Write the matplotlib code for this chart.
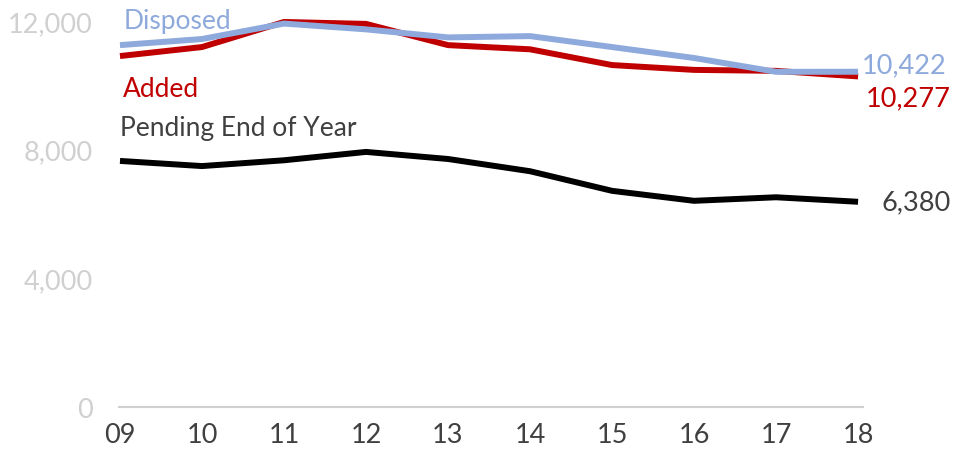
import numpy as np
import matplotlib
matplotlib.use("Agg")
import matplotlib.pyplot as plt

years = ["09", "10", "11", "12", "13", "14", "15", "16", "17", "18"]
disposed = [11250, 11440, 11920, 11740, 11490, 11530, 11190, 10850, 10420, 10422]
added = [10910, 11190, 11970, 11910, 11250, 11120, 10630, 10480, 10450, 10277]
pending = [7650, 7490, 7670, 7930, 7710, 7330, 6720, 6410, 6520, 6380]

c_disp = "#8EA9DB"
c_add = "#C00000"
c_pend = "#000000"
c_text = "#404040"

plt.rcParams['font.family'] = ['Lato', 'DejaVu Sans']

fig = plt.figure(figsize=(9.63, 4.56), dpi=100)
ax = fig.add_axes([119/963, 1 - 408/456, 744/963, 386/456])

x = np.arange(len(years))
ax.plot(x, pending, color=c_pend, lw=4.3, clip_on=False, solid_capstyle='butt')
ax.plot(x, added, color=c_add, lw=4.3, clip_on=False, solid_capstyle='butt')
ax.plot(x, disposed, color=c_disp, lw=4.3, clip_on=False, solid_capstyle='butt')

ax.set_xlim(-0.012, 9.06)
ax.set_ylim(0, 12000)
ax.set_xticks(x)
ax.set_xticklabels(years)
ax.set_yticks([0, 4000, 8000, 12000])
ax.set_yticklabels(["0", "4,000", "8,000", "12,000"])

for s in ["top", "right", "left"]:
    ax.spines[s].set_visible(False)
ax.spines["bottom"].set_color("#D0D0D0")
ax.spines["bottom"].set_linewidth(1.5)
ax.tick_params(axis="both", length=0)
ax.tick_params(axis="y", colors="#D0D0D0", labelsize=19.5, pad=19)
ax.tick_params(axis="x", colors=c_text, labelsize=19.5, pad=11)

# series labels
ax.text(0.04, 12000, "Disposed", color=c_disp, fontsize=19, va="center", ha="left")
ax.text(0.04, 9890, "Added", color=c_add, fontsize=19, va="center", ha="left")
ax.text(0.0, 8690, "Pending End of Year", color=c_text, fontsize=19, va="center", ha="left")

# end labels
ax.text(9.05, disposed[-1] + 230, f"{disposed[-1]:,}", color=c_disp, fontsize=19.5, va="center", ha="left")
ax.text(9.1, added[-1] - 660, f"{added[-1]:,}", color=c_add, fontsize=19.5, va="center", ha="left")
ax.text(9.29, pending[-1], f"{pending[-1]:,}", color=c_text, fontsize=19.5, va="center", ha="left")

fig.savefig("out.png", dpi=100)
